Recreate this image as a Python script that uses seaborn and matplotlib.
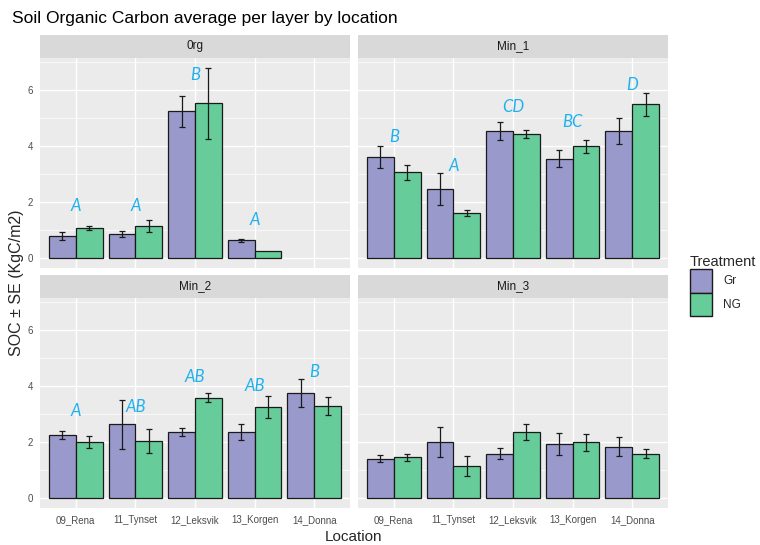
import numpy as np
import pandas as pd
import matplotlib
matplotlib.use("Agg")
import matplotlib.pyplot as plt
import seaborn as sns
from matplotlib.patches import Patch
from matplotlib.ticker import MultipleLocator

sns.set_theme(style="white")
plt.rcParams['font.family'] = ['Liberation Sans', 'DejaVu Sans']

locations = ["09_Rena", "11_Tynset", "12_Leksvik", "13_Korgen", "14_Donna"]
layers = ["0rg", "Min_1", "Min_2", "Min_3"]
treatments = ["Gr", "NG"]

# mean SOC per layer (rows) and location (cols)
gr_mean = [[0.80, 0.87, 5.24, 0.65, np.nan],
           [3.62, 2.48, 4.55, 3.55, 4.55],
           [2.27, 2.64, 2.37, 2.37, 3.76],
           [1.42, 2.00, 1.60, 1.93, 1.85]]
ng_mean = [[1.08, 1.15, 5.52, 0.26, np.nan],
           [3.07, 1.61, 4.43, 3.99, 5.49],
           [2.00, 2.04, 3.58, 3.25, 3.29],
           [1.46, 1.16, 2.37, 2.00, 1.60]]
gr_se = [[0.14, 0.11, 0.55, 0.06, np.nan],
         [0.39, 0.57, 0.32, 0.31, 0.46],
         [0.15, 0.88, 0.14, 0.28, 0.50],
         [0.12, 0.54, 0.20, 0.39, 0.35]]
ng_se = [[0.08, 0.22, 1.28, np.nan, np.nan],
         [0.26, 0.11, 0.15, 0.23, 0.42],
         [0.22, 0.42, 0.16, 0.39, 0.33],
         [0.12, 0.36, 0.29, 0.30, 0.17]]

# significance letters and their heights
letters = [["A", "A", "B", "A", ""],
           ["B", "A", "CD", "BC", "D"],
           ["A", "AB", "AB", "AB", "B"],
           ["", "", "", "", ""]]
letter_y = [[1.88, 1.88, 6.54, 1.36, 0],
            [4.33, 3.29, 5.40, 4.87, 6.18],
            [3.13, 3.26, 4.33, 3.99, 4.50],
            [0, 0, 0, 0, 0]]

colors = {"Gr": "#9999CC", "NG": "#66CC99"}

rows = []
for i, layer in enumerate(layers):
    for j, loc in enumerate(locations):
        rows.append((layer, loc, "Gr", gr_mean[i][j], gr_se[i][j]))
        rows.append((layer, loc, "NG", ng_mean[i][j], ng_se[i][j]))
df = pd.DataFrame(rows, columns=["layer", "location", "treatment", "soc", "se"])

fig = plt.figure(figsize=(7.6, 5.45), dpi=100)
W, H = 760, 545
lefts = [40, 358, 40, 358]
tops = [58, 58, 298, 298]
pw, ph, sh = 310, 210, 23

for i, layer in enumerate(layers):
    l, t = lefts[i], tops[i]
    ax = fig.add_axes([l / W, 1 - (t + ph) / H, pw / W, ph / H])
    sub = df[df.layer == layer]
    sns.barplot(data=sub, x="location", y="soc", hue="treatment",
                order=locations, hue_order=treatments, palette=colors,
                edgecolor="#1a1a1a", linewidth=0.9, width=0.9,
                errorbar=None, legend=False, saturation=1, ax=ax)
    for cont, trt in zip(ax.containers, treatments):
        s = sub[sub.treatment == trt].set_index("location")
        for bar in cont:
            xc = bar.get_x() + bar.get_width() / 2
            h = bar.get_height()
            se = s.loc[locations[int(round(xc))], "se"]
            if np.isnan(h) or np.isnan(se):
                continue
            ax.errorbar(xc, h, yerr=se, color="#1a1a1a", lw=0.9,
                        capsize=2, capthick=0.9, zorder=5)
    for j in range(len(locations)):
        if letters[i][j]:
            ax.text(j, letter_y[i][j], letters[i][j], ha="center", va="center",
                    style="italic", color="#1FB1EE", fontsize=12,
                    family=["Lato", "DejaVu Sans"])

    ax.set_facecolor("#EBEBEB")
    ax.set_xlim(-0.6, 4.6)
    ax.set_ylim(-0.34, 7.14)
    ax.set_yticks([0, 2, 4, 6])
    ax.yaxis.set_minor_locator(MultipleLocator(1))
    ax.set_axisbelow(True)
    ax.grid(which="major", color="white", lw=1.0)
    ax.grid(which="minor", axis="y", color="white", lw=0.5)
    ax.tick_params(which="minor", length=0)
    ax.tick_params(which="major", length=3, width=0.8, color="#333333",
                   labelcolor="#4D4D4D", labelsize=7, pad=2)
    for sp in ax.spines.values():
        sp.set_visible(False)
    ax.set_xlabel("")
    ax.set_ylabel("")
    if i < 2:
        ax.tick_params(axis="x", length=0, labelbottom=False)
    if i % 2 == 1:
        ax.tick_params(axis="y", length=0, labelleft=False)

    sax = fig.add_axes([l / W, 1 - t / H, pw / W, sh / H])
    sax.set_facecolor("#D9D9D9")
    sax.set_xticks([])
    sax.set_yticks([])
    for sp in sax.spines.values():
        sp.set_visible(False)
    sax.text(0.5, 0.5, layer, ha="center", va="center", fontsize=8.5,
             color="#1A1A1A", transform=sax.transAxes)

fig.text(12 / W, 1 - 18 / H, "Soil Organic Carbon average per layer by location",
         fontsize=12.5, va="center", ha="left", color="black")
fig.text(354 / W, 1 - 537 / H, "Location", fontsize=11, ha="center", va="center")
fig.text(17 / W, 1 - 283 / H, "SOC \u00b1 SE (KgC/m2)", fontsize=11.5,
         rotation=90, ha="center", va="center")

handles = [Patch(facecolor=colors[t], edgecolor="#1a1a1a", label=t) for t in treatments]
leg = fig.legend(handles=handles, title="Treatment", loc="upper left",
                 bbox_to_anchor=(690 / W, 1 - 255 / H), frameon=False,
                 borderpad=0, borderaxespad=0,
                 fontsize=8.5, title_fontsize=10.5, handlelength=1.9,
                 handleheight=2.7, handletextpad=0.9, labelspacing=0,
                 alignment="left")

fig.savefig("out.png", dpi=100)
